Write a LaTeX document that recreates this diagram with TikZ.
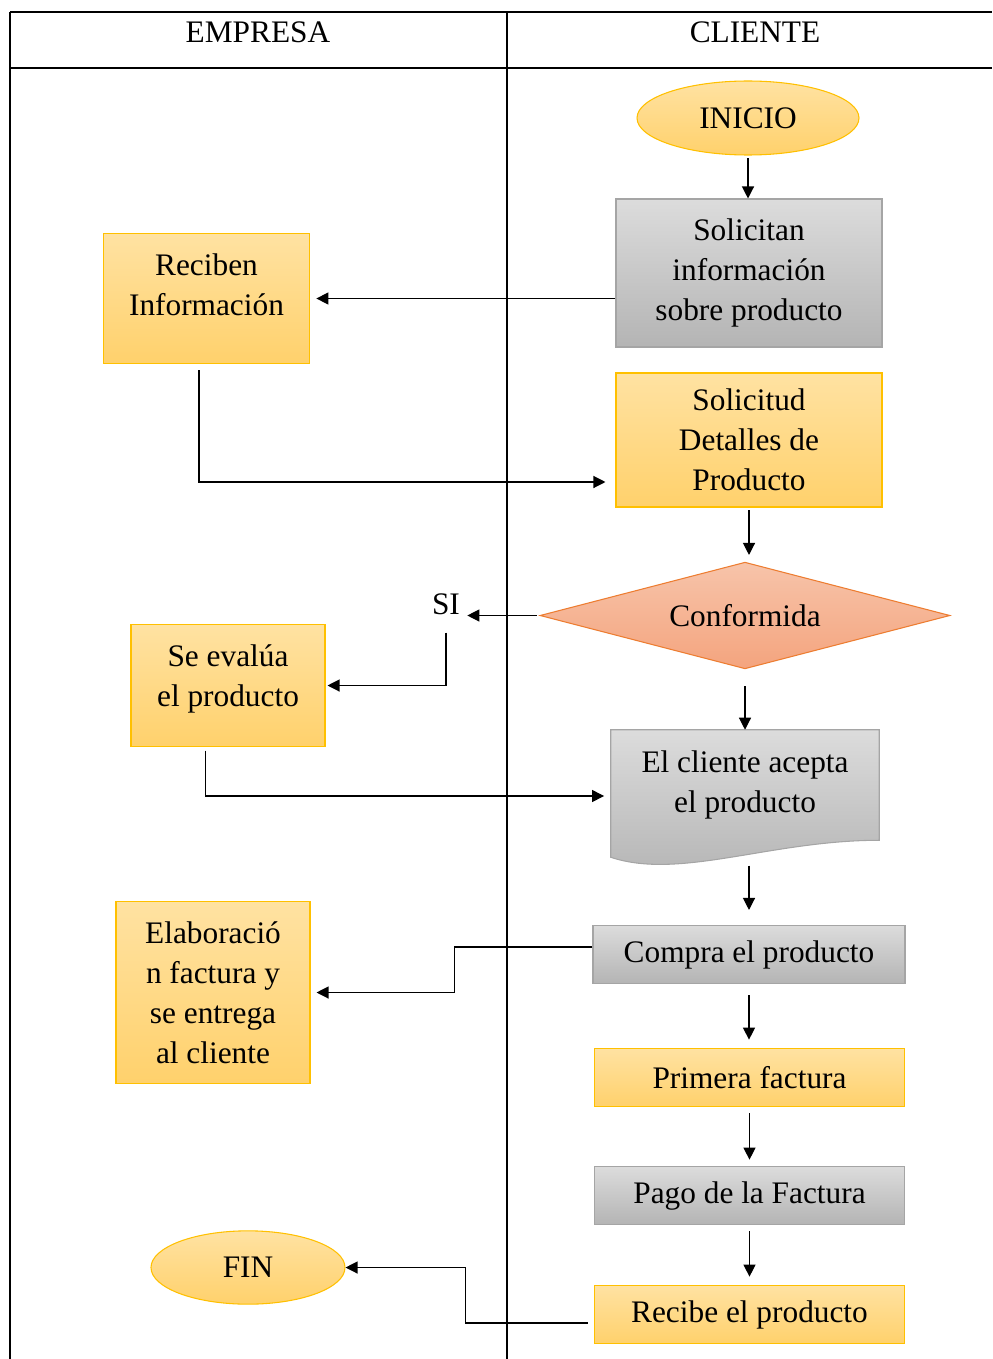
\documentclass[tikz,border=0pt]{standalone}
\usepackage{fontspec}
\setmainfont{Liberation Serif}
\usetikzlibrary{shapes.geometric,arrows.meta,calc,backgrounds}
\definecolor{ytop}{RGB}{255,226,162}
\definecolor{ybot}{RGB}{255,209,108}
\definecolor{yline}{RGB}{255,192,0}
\definecolor{gtop}{RGB}{220,220,220}
\definecolor{gbot}{RGB}{180,180,180}
\definecolor{gline}{RGB}{165,165,165}
\definecolor{stop}{RGB}{247,196,170}
\definecolor{sbot}{RGB}{244,164,126}
\definecolor{sline}{RGB}{237,125,49}
\begin{document}
\begin{tikzpicture}[
        x = .75pt,
        y = -.75pt,
        every node/.style = {font=\fontsize{23.5}{30}\selectfont, align=center},
        ybox/.style = {draw=yline, top color=ytop, bottom color=ybot, line width=.8pt, inner sep=0pt},
        gbox/.style = {draw=gline, top color=gtop, bottom color=gbot, line width=.8pt, inner sep=0pt},
        yoval/.style = {ellipse, ybox},
        arr/.style = {-{Triangle[length=9pt,width=9pt]}, line width=.9pt}
    ]
        \useasboundingbox (0,0) rectangle (992,1359);

        \draw[line width=1.2pt] (10,12) -- (992,12) (10,68) -- (992,68)
            (10,12) -- (10,1359) (507,12) -- (507,1359);
        \node (empresa) at (258,32) {EMPRESA};
        \node (cliente) at (755,32) {CLIENTE};

        \node[yoval, minimum width=166.5pt, minimum height=55.5pt] (inicio) at (748,118) {INICIO};
        \node[gbox, minimum width=199.5pt, minimum height=111pt] (solicitan) at (749,273) {Solicitan\\información\\sobre producto};
        \node[ybox, minimum width=155pt, minimum height=97pt, text depth=21pt] (reciben) at (206.5,298.5) {Reciben\\Información};
        \node[ybox, minimum width=199.5pt, minimum height=100.5pt] (solicitud) at (749,440) {Solicitud\\Detalles de\\Producto};
        \node[diamond, draw=sline, top color=stop, bottom color=sbot, line width=.8pt, inner sep=0pt,
            aspect=3.8, minimum width=307.5pt, minimum height=80pt] (conf) at (745,615.5) {Conformida};
        \node (si) at (446,604) {SI};
        \node[ybox, minimum width=145.5pt, minimum height=91pt, text depth=15.5pt] (evalua) at (228,685.5) {Se evalúa\\el producto};
        \node[minimum width=201pt, minimum height=82.5pt, inner sep=0pt] (acepta) at (745,785) {El cliente acepta\\el producto};
        \begin{scope}[on background layer]
            \draw[gbox] (acepta.north west) -- (acepta.north east) -- (acepta.south east)
                .. controls +(-109,0) and +(69,23) .. ($(acepta.south west)+(0,17)$) -- cycle;
        \end{scope}
        \node[gbox, minimum width=234pt, minimum height=44pt] (compra) at (749,954.5) {Compra el producto};
        \node[ybox, minimum width=145.5pt, minimum height=137pt] (elabora) at (213,992.5) {Elaboració\\n factura y\\se entrega\\al cliente};
        \node[ybox, minimum width=233pt, minimum height=44pt] (primera) at (749.5,1077.5) {Primera factura};
        \node[gbox, minimum width=233pt, minimum height=44pt] (pago) at (749.5,1195.5) {Pago de la Factura};
        \node[ybox, minimum width=233pt, minimum height=44pt] (recibe) at (749.5,1314.5) {Recibe el producto};
        \node[yoval, minimum width=145.5pt, minimum height=55pt] (fin) at (248,1267.5) {FIN};

        \draw[arr, shorten <=2pt] (inicio.south) -- (inicio.south |- solicitan.north);
        \draw[arr, shorten >=4.5pt] (solicitan.west |- reciben.east) -- (reciben.east);
        \draw[arr, shorten <=5pt, shorten >=7.5pt] ([xshift=-5.6pt]reciben.south) |- ($(solicitud.west)+(0,42)$);
        \draw[arr, shorten <=2pt, shorten >=5pt] (solicitud.south) -- (solicitud.south |- conf.north);
        \draw[arr, shorten <=2pt, shorten >=2pt] (conf.west) -- (conf.west -| si.east);
        \draw[arr, shorten <=10pt, shorten >=1.5pt] (si.south) |- (evalua.east);
        \draw[arr, shorten <=12.5pt] (conf.south) -- (acepta.north);
        \draw[arr, shorten <=3pt, shorten >=5pt] ([xshift=-17pt]evalua.south) |- ($(acepta.west)+(0,11)$);
        \draw[arr, shorten <=19pt, shorten >=11pt] (acepta.south -| compra.north) -- (compra.north);
        \draw[arr, shorten >=4.5pt] ([yshift=5.6pt]compra.west) -- ++(-138,0) |- (elabora.east);
        \draw[arr, shorten <=8pt, shorten >=6pt] (compra.south) -- (compra.south |- primera.north);
        \draw[arr, shorten <=4.5pt, shorten >=4.5pt] (primera) -- (pago);
        \draw[arr, shorten <=4.5pt, shorten >=6pt] (pago) -- (recibe);
        \draw[arr, shorten <=4.5pt] ([yshift=-6.4pt]recibe.west) -- ++(-128,0) |- (fin.east);
    \end{tikzpicture}
\end{document}
